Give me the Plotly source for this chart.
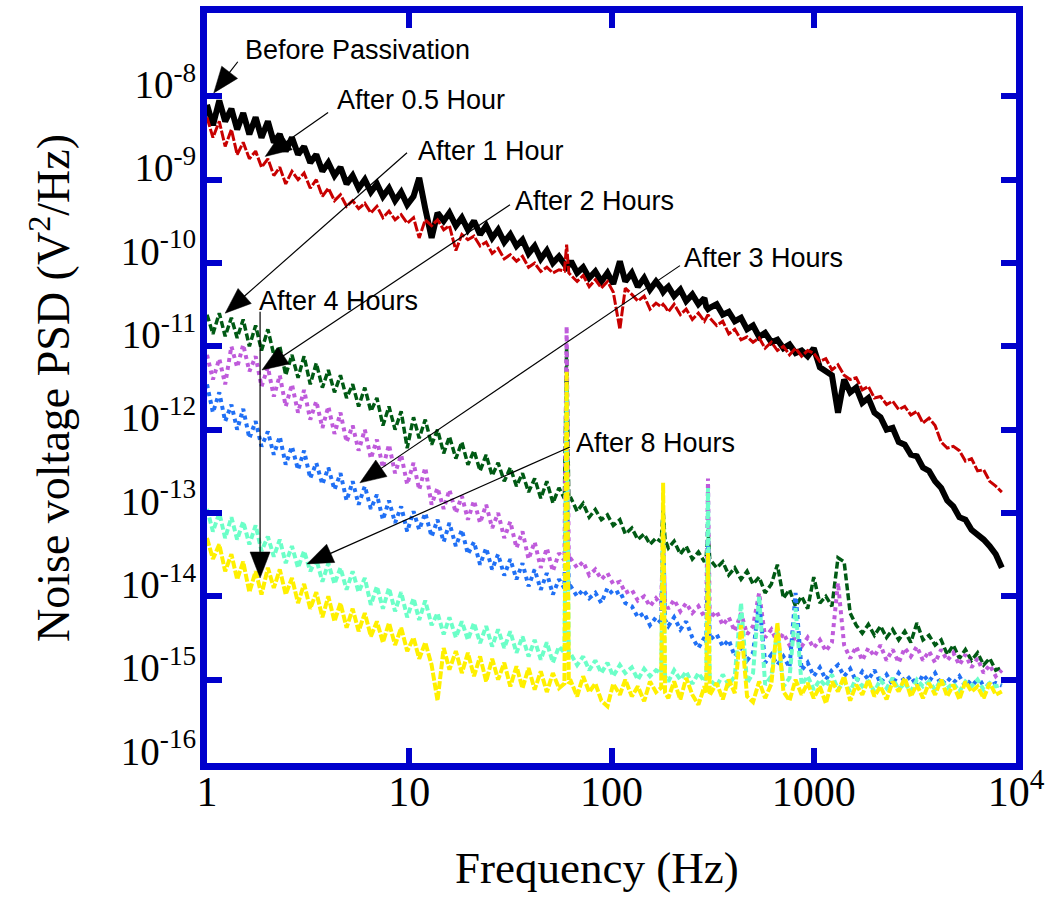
import math
import plotly.graph_objects as go

# Frequency grid (Hz) shared by all spectra
FREQ = [1.00, 1.07, 1.15, 1.23, 1.32, 1.41, 1.51, 1.62, 1.74, 1.86,
        2.00, 2.14, 2.29, 2.45, 2.63, 2.82, 3.02, 3.24, 3.47, 3.72,
        3.98, 4.27, 4.57, 4.90, 5.25, 5.62, 6.03, 6.46, 6.92, 7.41,
        7.94, 8.51, 9.12, 9.77, 10.5, 11.2, 12.0, 12.9, 13.8, 14.8,
        15.8, 17.0, 18.2, 19.5, 20.9, 22.4, 24.0, 25.7, 27.5, 29.5,
        31.6, 33.9, 36.3, 38.9, 41.7, 44.7, 47.9, 51.3, 55.0, 58.5, 60.0, 61.5,
        63.1, 67.6, 72.4, 77.6, 83.2, 89.1, 95.5, 102, 110, 117,
        126, 135, 145, 155, 166, 176, 180, 184, 191, 204, 219, 234,
        251, 269, 288, 294, 300, 306, 331, 355, 380, 407, 437, 468,
        501, 537, 575, 617, 661, 708, 759, 813, 871, 933,
        1000, 1072, 1148, 1230, 1318, 1413, 1514, 1622, 1738, 1862,
        1995, 2138, 2291, 2455, 2630, 2818, 3020, 3236, 3467, 3715,
        3981, 4266, 4571, 4898, 5248, 5623, 6026, 6457, 6918, 7413,
        7943, 8511]

# Noise voltage PSD (V^2/Hz) for each passivation time
PSD_BEFORE = [7.9e-9, 4.5e-9, 8.9e-9, 5.0e-9, 7.1e-9, 4.0e-9, 6.3e-9, 3.5e-9, 5.6e-9, 3.2e-9,
              5.0e-9, 2.8e-9, 3.5e-9, 2.2e-9, 3.2e-9, 2.0e-9, 2.5e-9, 1.6e-9, 2.0e-9, 1.26e-9,
              1.6e-9, 1.12e-9, 1.41e-9, 8.9e-10, 1.12e-9, 7.9e-10, 1.0e-9, 7.1e-10, 8.9e-10, 6.3e-10,
              7.9e-10, 5.6e-10, 7.1e-10, 5.0e-10, 6.3e-10, 1.05e-9, 4.5e-10, 2.0e-10, 4.0e-10, 3.2e-10,
              4.0e-10, 2.8e-10, 3.5e-10, 2.5e-10, 3.2e-10, 2.2e-10, 2.8e-10, 2.0e-10, 2.5e-10, 1.78e-10,
              2.2e-10, 1.6e-10, 1.9e-10, 1.3e-10, 1.6e-10, 1.12e-10, 1.41e-10, 1.0e-10, 1.2e-10, 9.5e-11, 8.9e-11, 9.5e-11,
              1.05e-10, 7.6e-11, 8.9e-11, 6.6e-11, 7.9e-11, 6.0e-11, 7.6e-11, 5.6e-11, 1.05e-10, 6.0e-11,
              7.6e-11, 5.2e-11, 6.6e-11, 4.8e-11, 6.0e-11, 5.0e-11, 4.5e-11, 4.8e-11, 5.2e-11, 4.0e-11, 4.8e-11, 3.5e-11,
              4.2e-11, 3.2e-11, 3.8e-11, 3.0e-11, 2.8e-11, 2.9e-11, 3.2e-11, 2.4e-11, 2.6e-11, 2.0e-11, 2.2e-11, 1.6e-11,
              1.78e-11, 1.3e-11, 1.45e-11, 1.12e-11, 1.2e-11, 9.5e-12, 1.05e-11, 8.3e-12, 8.9e-12, 7.6e-12,
              9.5e-12, 5.6e-12, 5.0e-12, 4.5e-12, 1.6e-12, 4.0e-12, 2.8e-12, 3.2e-12, 2.1e-12, 2.4e-12,
              1.6e-12, 1.41e-12, 1.0e-12, 1.05e-12, 7.1e-13, 6.6e-13, 5.0e-13, 4.8e-13, 3.5e-13, 3.2e-13,
              2.4e-13, 2.0e-13, 1.41e-13, 1.2e-13, 8.9e-14, 8.3e-14, 6.3e-14, 5.6e-14, 4.8e-14, 4.0e-14,
              3.2e-14, 2.2e-14]

PSD_05H = [5.6e-9, 3.2e-9, 5.0e-9, 2.5e-9, 4.0e-9, 2.0e-9, 2.8e-9, 1.78e-9, 2.2e-9, 1.41e-9,
           1.78e-9, 1.12e-9, 1.41e-9, 8.9e-10, 1.26e-9, 1.0e-9, 1.2e-9, 7.9e-10, 1.0e-9, 6.3e-10,
           7.9e-10, 5.6e-10, 6.6e-10, 4.8e-10, 5.6e-10, 4.5e-10, 5.2e-10, 4.0e-10, 4.8e-10, 3.5e-10,
           4.2e-10, 3.3e-10, 3.8e-10, 3.0e-10, 3.5e-10, 2.0e-10, 3.3e-10, 2.8e-10, 3.3e-10, 2.5e-10,
           2.8e-10, 1.41e-10, 2.2e-10, 1.9e-10, 2.1e-10, 1.6e-10, 1.78e-10, 1.3e-10, 1.5e-10, 1.12e-10,
           1.26e-10, 1.05e-10, 1.2e-10, 8.9e-11, 1.0e-10, 7.9e-11, 8.9e-11, 7.6e-11, 8.3e-11, 8.0e-11, 1.66e-10, 7.6e-11,
           7.1e-11, 6.0e-11, 7.1e-11, 5.2e-11, 6.3e-11, 5.0e-11, 6.0e-11, 4.5e-11, 1.6e-11, 5.0e-11,
           4.2e-11, 3.5e-11, 4.0e-11, 2.8e-11, 3.3e-11, 3.0e-11, 3.2e-11, 3.0e-11, 2.6e-11, 3.2e-11, 2.4e-11, 2.8e-11,
           2.1e-11, 2.5e-11, 2.0e-11, 2.2e-11, 2.4e-11, 2.2e-11, 1.78e-11, 2.0e-11, 1.41e-11, 1.6e-11, 1.2e-11, 1.3e-11,
           1.12e-11, 1.26e-11, 9.5e-12, 1.12e-11, 8.9e-12, 1.0e-11, 7.9e-12, 9.5e-12, 7.6e-12, 8.9e-12,
           8.3e-12, 6.6e-12, 7.1e-12, 5.2e-12, 6.0e-12, 4.5e-12, 4.0e-12, 4.2e-12, 3.0e-12, 3.3e-12,
           2.4e-12, 2.5e-12, 2.0e-12, 2.2e-12, 1.74e-12, 1.9e-12, 1.5e-12, 1.66e-12, 1.2e-12, 1.38e-12,
           1.12e-12, 7.1e-13, 6.0e-13, 6.3e-13, 5.6e-13, 4.2e-13, 4.5e-13, 3.2e-13, 3.3e-13, 2.4e-13,
           2.1e-13, 1.78e-13]

PSD_1H = [2.4e-11, 1.41e-11, 2.5e-11, 1.32e-11, 2.2e-11, 1.26e-11, 2.1e-11, 1.0e-11, 1.78e-11, 8.9e-12,
          1.6e-11, 7.9e-12, 1.0e-11, 4.5e-12, 7.9e-12, 4.2e-12, 7.6e-12, 3.5e-12, 6.3e-12, 3.2e-12,
          5.2e-12, 2.8e-12, 4.5e-12, 2.4e-12, 3.5e-12, 1.9e-12, 3.2e-12, 1.66e-12, 2.4e-12, 1.12e-12,
          1.9e-12, 1.0e-12, 1.66e-12, 6.0e-13, 1.41e-12, 7.9e-13, 1.32e-12, 6.6e-13, 1.0e-12, 5.2e-13,
          8.3e-13, 4.5e-13, 7.1e-13, 3.8e-13, 5.6e-13, 3.2e-13, 5.0e-13, 2.8e-13, 4.0e-13, 2.4e-13,
          3.5e-13, 2.1e-13, 3.0e-13, 1.78e-13, 2.6e-13, 1.5e-13, 2.4e-13, 1.32e-13, 2.0e-13, 1.5e-13, 1.0e-11, 1.45e-13,
          1.5e-13, 1.05e-13, 1.3e-13, 8.9e-14, 1.1e-13, 8.3e-14, 9.5e-14, 7.1e-14, 8.3e-14, 5.6e-14,
          6.6e-14, 4.8e-14, 5.6e-14, 4.2e-14, 5.0e-14, 4.5e-14, 1.1e-13, 4.8e-14, 3.8e-14, 4.6e-14, 3.2e-14, 4.0e-14,
          2.8e-14, 3.4e-14, 2.6e-14, 3.0e-14, 6.3e-14, 2.8e-14, 2.2e-14, 2.6e-14, 1.8e-14, 2.2e-14, 1.6e-14, 2.0e-14,
          1.4e-14, 1.7e-14, 1.1e-14, 1.4e-14, 2.4e-14, 9.5e-15, 1.2e-14, 7.6e-15, 1.0e-14, 7.1e-15,
          1.7e-14, 8.3e-15, 1.0e-14, 7.6e-15, 2.9e-14, 2.6e-14, 6.3e-15, 4.5e-15, 3.6e-15, 4.6e-15,
          3.4e-15, 4.4e-15, 3.2e-15, 4.0e-15, 3.0e-15, 3.8e-15, 2.8e-15, 4.8e-15, 3.0e-15, 3.4e-15,
          2.6e-15, 3.0e-15, 2.0e-15, 2.6e-15, 1.8e-15, 2.3e-15, 1.7e-15, 2.1e-15, 1.5e-15, 1.8e-15,
          1.3e-15, 1.4e-15]

PSD_2H = [7.9e-12, 4.0e-12, 7.1e-12, 3.5e-12, 1.0e-11, 5.6e-12, 1.05e-11, 5.0e-12, 7.6e-12, 3.3e-12,
          5.6e-12, 2.5e-12, 4.5e-12, 1.9e-12, 3.5e-12, 1.6e-12, 3.0e-12, 1.32e-12, 2.2e-12, 1.05e-12,
          1.9e-12, 8.9e-13, 1.6e-12, 7.1e-13, 1.12e-12, 5.6e-13, 1.0e-12, 4.5e-13, 7.6e-13, 3.5e-13,
          6.6e-13, 3.0e-13, 5.0e-13, 2.2e-13, 4.0e-13, 1.9e-13, 3.5e-13, 1.26e-13, 2.0e-13, 1.12e-13,
          1.9e-13, 1.0e-13, 1.6e-13, 8.3e-14, 1.41e-13, 7.6e-14, 1.26e-13, 6.6e-14, 1.0e-13, 5.0e-14,
          7.9e-14, 3.8e-14, 6.0e-14, 2.8e-14, 4.5e-14, 2.2e-14, 3.8e-14, 2.0e-14, 3.3e-14, 2.7e-14, 1.74e-11, 2.7e-14,
          2.8e-14, 2.2e-14, 2.6e-14, 1.8e-14, 2.1e-14, 1.6e-14, 1.9e-14, 1.4e-14, 1.5e-14, 1.1e-14,
          1.2e-14, 8.9e-15, 1.0e-14, 7.6e-15, 9.5e-15, 8.0e-15, 5.0e-14, 8.5e-15, 7.1e-15, 9.1e-15, 6.6e-15, 8.3e-15,
          6.3e-15, 7.6e-15, 5.6e-15, 6.0e-15, 2.6e-13, 5.5e-15, 6.6e-15, 4.5e-15, 5.6e-15, 3.8e-15, 6.3e-15, 3.5e-15,
          4.4e-15, 1.1e-14, 3.2e-15, 4.0e-15, 2.8e-15, 3.6e-15, 2.6e-15, 3.3e-15, 2.5e-15, 3.2e-15,
          2.4e-15, 3.0e-15, 2.2e-15, 2.8e-15, 1.45e-14, 2.6e-15, 1.8e-15, 2.5e-15, 1.7e-15, 2.4e-15,
          1.9e-15, 2.6e-15, 1.7e-15, 2.3e-15, 1.6e-15, 2.4e-15, 1.9e-15, 2.5e-15, 1.7e-15, 2.2e-15,
          1.6e-15, 2.3e-15, 1.7e-15, 2.1e-15, 1.5e-15, 2.0e-15, 1.4e-15, 1.8e-15, 1.2e-15, 1.5e-15,
          1.1e-15, 1.3e-15]

PSD_3H = [3.5e-12, 1.6e-12, 2.8e-12, 1.26e-12, 2.0e-12, 1.0e-12, 1.78e-12, 7.9e-13, 1.26e-12, 6.3e-13,
          9.5e-13, 5.0e-13, 8.3e-13, 3.8e-13, 6.3e-13, 3.3e-13, 5.6e-13, 2.6e-13, 4.0e-13, 2.2e-13,
          3.5e-13, 1.9e-13, 3.0e-13, 1.41e-13, 2.4e-13, 1.26e-13, 2.1e-13, 1.12e-13, 1.66e-13, 8.3e-14,
          1.41e-13, 7.6e-14, 1.2e-13, 6.0e-14, 1.05e-13, 6.3e-14, 1.0e-13, 5.2e-14, 8.3e-14, 4.5e-14,
          7.6e-14, 4.0e-14, 6.3e-14, 3.2e-14, 4.5e-14, 2.4e-14, 3.8e-14, 2.1e-14, 3.2e-14, 1.78e-14,
          2.8e-14, 1.6e-14, 2.5e-14, 1.32e-14, 2.1e-14, 1.2e-14, 1.9e-14, 1.05e-14, 1.6e-14, 1.25e-14, 5.0e-13, 1.25e-14,
          1.3e-14, 1.0e-14, 1.2e-14, 9.5e-15, 1.1e-14, 8.3e-15, 1.26e-14, 1.05e-14, 1.15e-14, 8.3e-15,
          7.6e-15, 5.6e-15, 6.3e-15, 4.5e-15, 5.6e-15, 4.8e-15, 6.8e-14, 5.2e-15, 4.4e-15, 5.6e-15, 4.0e-15, 5.0e-15,
          3.2e-15, 2.4e-15, 3.2e-15, 2.8e-15, 4.0e-14, 3.0e-15, 3.5e-15, 2.5e-15, 3.0e-15, 1.9e-15, 2.4e-15, 1.7e-15,
          2.1e-15, 8.5e-15, 1.6e-15, 2.0e-15, 1.5e-15, 1.9e-15, 1.4e-15, 1.1e-14, 1.3e-15, 1.6e-15,
          1.1e-15, 1.4e-15, 1.0e-15, 1.3e-15, 1.5e-15, 1.1e-15, 1.35e-15, 9.5e-16, 1.25e-15, 1.0e-15,
          1.3e-15, 9.1e-16, 1.15e-15, 8.7e-16, 1.2e-15, 9.5e-16, 1.1e-15, 8.3e-16, 1.15e-15, 9.5e-16,
          1.2e-15, 8.7e-16, 1.05e-15, 9.1e-16, 1.1e-15, 8.3e-16, 1.0e-15, 8.7e-16, 9.5e-16, 8.3e-16,
          9.1e-16, 8.5e-16]

PSD_4H = [5.0e-14, 2.8e-14, 4.2e-14, 2.0e-14, 3.2e-14, 1.6e-14, 2.6e-14, 1.12e-14, 2.0e-14, 1.05e-14,
          2.2e-14, 1.26e-14, 2.1e-14, 1.05e-14, 1.66e-14, 8.3e-15, 1.41e-14, 7.1e-15, 1.12e-14, 5.6e-15,
          1.0e-14, 5.0e-15, 8.3e-15, 4.2e-15, 7.1e-15, 3.8e-15, 6.3e-15, 3.3e-15, 5.0e-15, 2.8e-15,
          4.8e-15, 2.6e-15, 4.2e-15, 2.2e-15, 3.2e-15, 1.78e-15, 2.8e-15, 1.5e-15, 5.6e-16, 2.4e-15,
          1.32e-15, 2.2e-15, 1.2e-15, 2.1e-15, 1.1e-15, 1.9e-15, 9.5e-16, 1.78e-15, 1.0e-15, 1.6e-15,
          8.3e-16, 1.45e-15, 7.9e-16, 1.38e-15, 7.6e-16, 1.26e-15, 7.1e-16, 1.2e-15, 7.9e-16, 9.0e-16, 5.0e-12, 9.0e-16,
          9.5e-16, 6.3e-16, 1.1e-15, 7.1e-16, 9.0e-16, 5.6e-16, 4.8e-16, 8.9e-16, 6.6e-16, 1.0e-15,
          6.3e-16, 8.3e-16, 5.5e-16, 9.5e-16, 7.1e-16, 8.0e-16, 2.3e-13, 7.0e-16, 6.0e-16, 9.5e-16, 5.8e-16, 1.05e-15,
          6.6e-16, 5.0e-16, 8.3e-16, 7.0e-16, 3.3e-14, 6.5e-16, 9.1e-16, 5.8e-16, 1.0e-15, 6.9e-16, 4.5e-15, 6.3e-16,
          5.4e-16, 9.5e-16, 6.0e-16, 8.9e-16, 4.8e-15, 7.2e-16, 5.6e-16, 1.0e-15, 6.6e-16, 9.1e-16,
          6.0e-16, 8.3e-16, 5.2e-16, 9.5e-16, 7.2e-16, 1.1e-15, 5.6e-16, 8.7e-16, 6.6e-16, 1.0e-15,
          6.3e-16, 8.3e-16, 5.8e-16, 9.5e-16, 7.2e-16, 1.05e-15, 6.3e-16, 8.7e-16, 6.0e-16, 9.1e-16,
          6.6e-16, 1.0e-15, 6.3e-16, 8.7e-16, 5.8e-16, 9.5e-16, 7.2e-16, 8.3e-16, 6.0e-16, 9.1e-16,
          6.6e-16, 7.2e-16]

PSD_8H = [1.12e-13, 6.0e-14, 1.0e-13, 5.0e-14, 8.9e-14, 4.8e-14, 7.9e-14, 4.2e-14, 7.1e-14, 3.5e-14,
          5.2e-14, 3.0e-14, 4.8e-14, 2.5e-14, 4.0e-14, 2.2e-14, 3.5e-14, 2.0e-14, 2.8e-14, 1.5e-14,
          2.5e-14, 1.41e-14, 2.2e-14, 1.2e-14, 2.0e-14, 1.12e-14, 1.66e-14, 7.9e-15, 1.32e-14, 7.1e-15,
          1.26e-14, 6.6e-15, 1.12e-14, 5.6e-15, 9.5e-15, 5.2e-15, 8.9e-15, 4.5e-15, 6.3e-15, 3.5e-15,
          5.6e-15, 3.2e-15, 5.0e-15, 3.0e-15, 4.8e-15, 2.75e-15, 4.4e-15, 2.5e-15, 4.0e-15, 2.4e-15,
          3.8e-15, 2.1e-15, 3.3e-15, 1.9e-15, 3.0e-15, 1.74e-15, 2.8e-15, 1.6e-15, 2.5e-15, 2.1e-15, 3.5e-12, 2.0e-15,
          2.0e-15, 1.5e-15, 1.9e-15, 1.3e-15, 1.7e-15, 1.2e-15, 1.6e-15, 1.1e-15, 1.5e-15, 1.2e-15,
          1.4e-15, 1.0e-15, 1.35e-15, 1.1e-15, 1.3e-15, 1.2e-15, 8.3e-14, 1.1e-15, 9.5e-16, 1.3e-15, 1.0e-15, 1.25e-15,
          8.9e-16, 1.2e-15, 9.5e-16, 1.1e-15, 2.0e-13, 1.0e-15, 8.3e-16, 1.15e-15, 8.7e-16, 1.1e-15, 8.3e-15, 9.1e-16,
          1.2e-15, 1.0e-14, 8.7e-16, 1.1e-15, 4.0e-15, 8.3e-16, 1.05e-15, 7.2e-15, 8.7e-16, 1.1e-15,
          7.6e-16, 1.0e-15, 8.3e-16, 1.15e-15, 7.6e-16, 9.5e-16, 7.2e-16, 1.05e-15, 8.3e-16, 9.5e-16,
          7.2e-16, 1.0e-15, 7.9e-16, 1.05e-15, 7.6e-16, 9.1e-16, 7.2e-16, 1.0e-15, 8.3e-16, 9.5e-16,
          7.6e-16, 1.0e-15, 7.9e-16, 9.1e-16, 7.2e-16, 9.5e-16, 8.3e-16, 1.0e-15, 7.6e-16, 9.1e-16,
          8.3e-16, 8.7e-16]

# (name, values, colour, width, dash) in drawing order
SERIES = [
    ("Before Passivation", PSD_BEFORE, "#000000", 6, "solid"),
    ("After 0.5 Hour", PSD_05H, "#C80000", 3, "10px,2px"),
    ("After 1 Hour", PSD_1H, "#005A14", 3.5, "7px,3px"),
    ("After 2 Hours", PSD_2H, "#BF5BDB", 4, "4px,4px"),
    ("After 3 Hours", PSD_3H, "#2070F5", 4, "4px,4px"),
    ("After 8 Hours", PSD_8H, "#6CFFC8", 4, "6px,3px"),
    ("After 4 Hours", PSD_4H, "#FFF000", 4, "8px,2px"),
]

# Callouts: label, label anchor (f, psd), arrow start (f, psd), arrow tip (f, psd)
CALLOUTS = [
    ("Before Passivation", (1.51, 3.6e-8), (1.42, 2.6e-8), (1.08, 1.1e-8)),
    ("After 0.5 Hour", (4.3, 9.1e-9), (3.97, 6.4e-9), (1.94, 1.9e-9)),
    ("After 1 Hour", (10.8, 2.2e-9), (9.75, 2.1e-9), (1.23, 2.5e-11)),
    ("After 2 Hours", (32.6, 5.6e-10), (31.5, 5.0e-10), (1.87, 5.2e-12)),
    ("After 3 Hours", (223, 1.16e-10), (218, 9.3e-11), (5.7, 2.3e-13)),
    ("After 4 Hours", (1.77, 3.5e-11), (1.83, 2.6e-11), (1.83, 1.66e-14)),
    ("After 8 Hours", (65.3, 6.95e-13), (62.3, 6.2e-13), (3.12, 2.45e-14)),
]

X_TICKS = [1, 10, 100, 1000, 10000]
X_TICK_TEXT = ["1", "10", "100", "1000", "10<sup>4</sup>"]
Y_TICKS = [1e-16, 1e-15, 1e-14, 1e-13, 1e-12, 1e-11, 1e-10, 1e-9, 1e-8]
Y_TICK_TEXT = ["10<sup>-%d</sup>" % n for n in range(16, 7, -1)]

WIDTH, HEIGHT = 1051, 907
M_L, M_R, M_T, M_B = 207, 35, 13, 144
X_LOG = (0.0, 4.0)
Y_LOG = (-16.0, -7.0)
FRAME = "#0000CC"
SERIF = "Liberation Serif, Times New Roman, serif"
SANS = "Liberation Sans, Arial, sans-serif"

PW = WIDTH - M_L - M_R
PH = HEIGHT - M_T - M_B


def to_px(f, p):
    x = M_L + (math.log10(f) - X_LOG[0]) / (X_LOG[1] - X_LOG[0]) * PW
    y = M_T + PH - (math.log10(p) - Y_LOG[0]) / (Y_LOG[1] - Y_LOG[0]) * PH
    return x, y


def to_paper(x, y):
    return (x - M_L) / PW, (M_T + PH - y) / PH


fig = go.Figure()
for name, vals, color, width, dash in SERIES:
    fig.add_trace(go.Scatter(x=FREQ, y=vals, mode="lines", name=name,
                             line=dict(color=color, width=width, dash=dash),
                             showlegend=False))

HEAD_LEN, HEAD_HALF = 26, 10
shapes = []
annotations = []
for label, txt, start, tip in CALLOUTS:
    sx, sy = to_px(*start)
    tx, ty = to_px(*tip)
    dx, dy = tx - sx, ty - sy
    d = math.hypot(dx, dy)
    ux, uy = dx / d, dy / d
    bx, by = tx - ux * HEAD_LEN, ty - uy * HEAD_LEN
    nx, ny = -uy, ux
    p0 = to_paper(sx, sy)
    p1 = to_paper(bx + ux * 2, by + uy * 2)
    shapes.append(dict(type="line", xref="paper", yref="paper",
                       x0=p0[0], y0=p0[1], x1=p1[0], y1=p1[1],
                       line=dict(color="black", width=1.2), layer="above"))
    c1 = to_paper(bx + nx * HEAD_HALF, by + ny * HEAD_HALF)
    c2 = to_paper(bx - nx * HEAD_HALF, by - ny * HEAD_HALF)
    ct = to_paper(tx, ty)
    path = "M %.5f,%.5f L %.5f,%.5f L %.5f,%.5f Z" % (ct[0], ct[1], c1[0], c1[1], c2[0], c2[1])
    shapes.append(dict(type="path", xref="paper", yref="paper", path=path,
                       fillcolor="black", line=dict(color="black", width=0.5), layer="above"))
    lx, ly = to_paper(*to_px(*txt))
    annotations.append(dict(text=label, xref="paper", yref="paper", x=lx, y=ly,
                            xanchor="left", yanchor="middle", showarrow=False,
                            font=dict(family=SANS, size=27, color="black")))

# Axis titles
annotations.append(dict(text="Frequency (Hz)", xref="paper", yref="paper",
                        x=(597 - M_L) / PW, y=-(868 - M_T - PH) / PH,
                        xanchor="center", yanchor="middle", showarrow=False,
                        font=dict(family=SERIF, size=45, color="black")))
annotations.append(dict(text="Noise voltage PSD (V<sup>2</sup>/Hz)", xref="paper", yref="paper",
                        x=(50 - M_L) / PW, y=0.5, textangle=-90,
                        xanchor="center", yanchor="middle", showarrow=False,
                        font=dict(family=SERIF, size=46, color="black")))

axis_common = dict(showline=True, linecolor=FRAME, linewidth=7, mirror="allticks",
                   ticks="inside", ticklen=15, tickwidth=6, tickcolor=FRAME,
                   showgrid=False, zeroline=False)

fig.update_layout(
    width=WIDTH, height=HEIGHT,
    margin=dict(l=M_L, r=M_R, t=M_T, b=M_B, autoexpand=False),
    paper_bgcolor="white", plot_bgcolor="white",
    xaxis=dict(type="log", range=list(X_LOG), tickvals=X_TICKS, ticktext=X_TICK_TEXT,
               tickfont=dict(family=SERIF, size=42, color="black"),
               ticklabelstandoff=-14, **axis_common),
    yaxis=dict(type="log", range=list(Y_LOG), tickvals=Y_TICKS, ticktext=Y_TICK_TEXT,
               tickfont=dict(family=SERIF, size=39, color="black"),
               ticklabelstandoff=-4, ticklabelshift=-12, **axis_common),
    shapes=shapes,
    annotations=annotations,
)

fig.write_html("out.html")
